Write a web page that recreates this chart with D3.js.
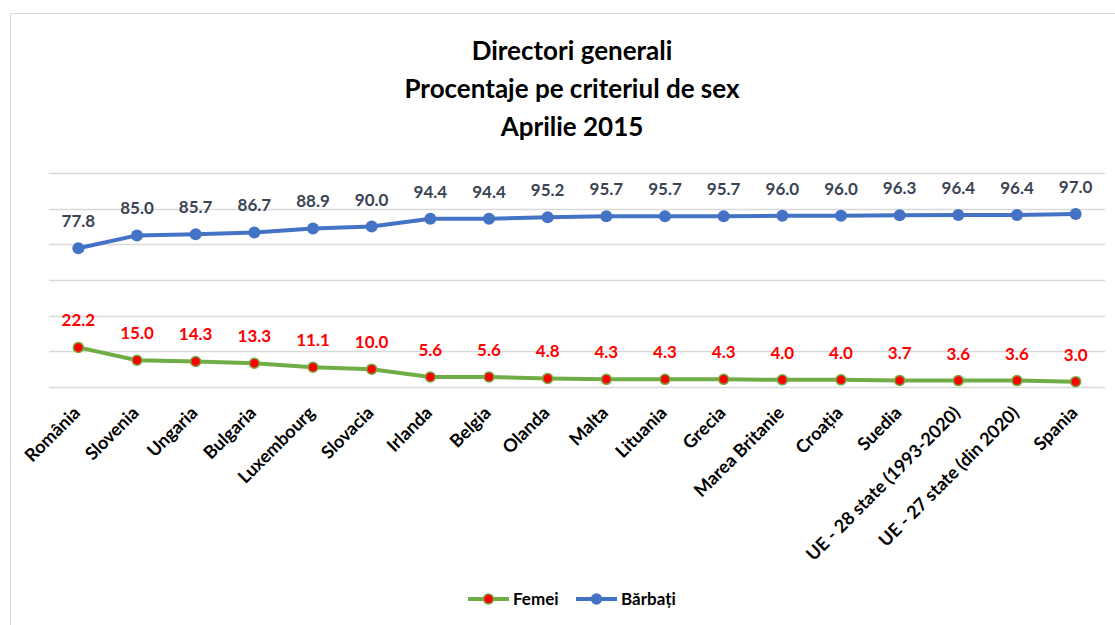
<!DOCTYPE html>
<html>
<head>
<meta charset="utf-8">
<script src="https://cdn.jsdelivr.net/npm/d3@7"></script>
<style>
  body { margin: 0; background: #fff; }
  svg { font-family: Lato, "Open Sans", sans-serif; }
</style>
</head>
<body>
<svg id="svg" width="1115" height="625"></svg>
<script>
// -- data
var categories = ["România", "Slovenia", "Ungaria", "Bulgaria", "Luxembourg", "Slovacia",
    "Irlanda", "Belgia", "Olanda", "Malta", "Lituania", "Grecia", "Marea Britanie",
    "Croația", "Suedia", "UE - 28 state (1993-2020)", "UE - 27 state (din 2020)", "Spania"];
var femei = [22.2, 15.0, 14.3, 13.3, 11.1, 10.0, 5.6, 5.6, 4.8, 4.3, 4.3, 4.3, 4.0, 4.0, 3.7, 3.6, 3.6, 3.0];
var barbati = [77.8, 85.0, 85.7, 86.7, 88.9, 90.0, 94.4, 94.4, 95.2, 95.7, 95.7, 95.7, 96.0, 96.0, 96.3, 96.4, 96.4, 97.0];
var yTicks = [0, 20, 40, 60, 80, 100, 120];
var titleLines = ["Directori generali", "Procentaje pe criteriul de sex", "Aprilie 2015"];

var svg = d3.select("svg#svg");

// - chart frame
svg.append("rect")
    .attr("x", 10.5).attr("y", 13.5)
    .attr("width", 1120).attr("height", 630)
    .style("fill", "white")
    .style("stroke", "#d9d9d9");

// - title
svg.append("g").selectAll("text").data(titleLines).enter()
    .append("text")
    .attr("x", 572)
    .attr("y", function(d, i) { return 60 + i * 38; })
    .attr("text-anchor", "middle")
    .style("font-size", "26px")
    .style("font-weight", "bold")
    .style("fill", "#000")
    .text(function(d) { return d; });

var x = d3.scaleBand().domain(categories).range([49, 1105]);
var y = d3.scaleLinear().domain([0, 120]).range([387, 173]);
var cx = function(d, i) { return x(categories[i]) + x.bandwidth() / 2; };

// - gridlines
svg.append("g").selectAll("line").data(yTicks).enter()
    .append("line")
    .attr("x1", 49).attr("x2", 1105)
    .attr("y1", function(d) { return Math.round(y(d)) + 0.5; })
    .attr("y2", function(d) { return Math.round(y(d)) + 0.5; })
    .style("stroke", "#d9d9d9")
    .attr("stroke-width", 1.5);

// - x axis labels
var xAxis = d3.axisBottom(x).tickSize(0).tickPadding(0);
var gx = svg.append("g").attr("transform", "translate(0,387)").call(xAxis);
gx.select(".domain").remove();
gx.selectAll("text")
    .attr("x", 0).attr("y", 0).attr("dy", 0)
    .attr("transform", "translate(3,27) rotate(-45)")
    .style("text-anchor", "end")
    .style("font-family", "Lato, 'Open Sans', sans-serif")
    .style("font-size", "18px")
    .style("font-weight", "bold")
    .style("fill", "#000");

var line = d3.line()
    .x(cx)
    .y(function(d) { return y(d); });

// - Bărbați
svg.append("path").datum(barbati)
    .attr("d", line)
    .style("fill", "none")
    .style("stroke", "#4472c4")
    .attr("stroke-width", 4)
    .attr("stroke-linejoin", "round");
svg.append("g").selectAll("circle").data(barbati).enter()
    .append("circle")
    .attr("cx", cx)
    .attr("cy", function(d) { return y(d); })
    .attr("r", 6)
    .style("fill", "#4472c4");
svg.append("g").selectAll("text").data(barbati).enter()
    .append("text")
    .attr("x", cx)
    .attr("y", function(d) { return y(d) - 21; })
    .attr("text-anchor", "middle")
    .style("font-size", "17px")
    .style("font-weight", "bold")
    .style("fill", "#3b4454")
    .text(function(d) { return d.toFixed(1); });

// - Femei
svg.append("path").datum(femei)
    .attr("d", line)
    .style("fill", "none")
    .style("stroke", "#70ad47")
    .attr("stroke-width", 4)
    .attr("stroke-linejoin", "round");
svg.append("g").selectAll("circle").data(femei).enter()
    .append("circle")
    .attr("cx", cx)
    .attr("cy", function(d) { return y(d); })
    .attr("r", 5)
    .style("fill", "#ff0000")
    .style("stroke", "#70ad47")
    .attr("stroke-width", 1.5);
svg.append("g").selectAll("text").data(femei).enter()
    .append("text")
    .attr("x", cx)
    .attr("y", function(d) { return y(d) - 21; })
    .attr("text-anchor", "middle")
    .style("font-size", "17px")
    .style("font-weight", "bold")
    .style("fill", "#ff0000")
    .text(function(d) { return d.toFixed(1); });

// - legend
var legend = [
    { name: "Femei", stroke: "#70ad47", fill: "#ff0000", x: 468 },
    { name: "Bărbați", stroke: "#4472c4", fill: "#4472c4", x: 576 }
];
var lg = svg.append("g").selectAll("g").data(legend).enter()
    .append("g")
    .attr("transform", function(d) { return "translate(" + d.x + ",599)"; });
lg.append("line")
    .attr("x1", 0).attr("x2", 41)
    .style("stroke", function(d) { return d.stroke; })
    .attr("stroke-width", 4);
lg.append("circle")
    .attr("cx", 20.5).attr("r", 5)
    .style("fill", function(d) { return d.fill; })
    .style("stroke", function(d) { return d.stroke; })
    .attr("stroke-width", 1.5);
lg.append("text")
    .attr("x", 45).attr("y", 6)
    .style("font-size", "17px")
    .style("font-weight", "bold")
    .style("fill", "#000")
    .text(function(d) { return d.name; });
</script>
</body>
</html>
